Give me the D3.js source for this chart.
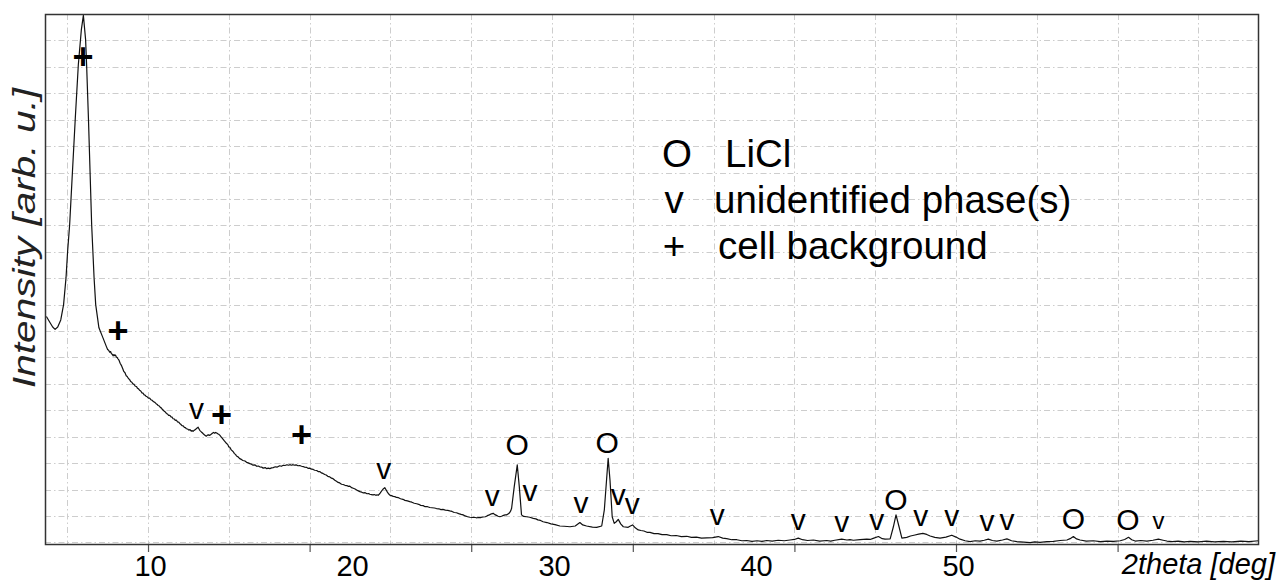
<!DOCTYPE html>
<html><head><meta charset="utf-8">
<script src="https://cdn.jsdelivr.net/npm/d3@7"></script>
<style>body{margin:0;background:#fff}svg{display:block}</style>
</head><body><svg id="c" width="1279" height="586"></svg>
<script>
// ---- data: diffraction scan as [2theta (deg), intensity (arb. u.)] ----
const scanPeakRegion = [[4.97,8.55],[5.13,8.34],[5.28,8.15],[5.40,8.06],[5.53,8.15],[5.68,8.42],[5.82,9.00],[5.94,10.01],[6.02,11.02],[6.12,12.02],[6.26,14.05],[6.40,16.06],[6.55,18.08],[6.70,19.41],[6.80,19.95],[6.91,19.03],[6.96,18.08],[7.05,16.06],[7.13,14.05],[7.21,12.02],[7.33,10.01],[7.41,9.00],[7.57,8.12],[7.77,7.74]];
const scanLowAngle = [[7.94,7.41],[8.00,7.30],[8.05,7.27],[8.10,7.20],[8.15,7.22],[8.19,7.14],[8.23,7.12],[8.27,7.06],[8.31,7.11],[8.35,7.07],[8.39,7.09],[8.43,7.02],[8.47,7.00],[8.51,6.95],[8.56,6.90],[8.62,6.78],[8.68,6.70],[8.72,6.63],[8.76,6.55],[8.80,6.47],[8.86,6.42],[8.92,6.31],[8.97,6.28],[9.03,6.20],[9.09,6.16],[9.14,6.09],[9.20,6.06],[9.25,6.00],[9.31,5.98],[9.37,5.91],[9.43,5.90],[9.48,5.83],[9.53,5.81],[9.58,5.76],[9.64,5.73],[9.70,5.66],[9.75,5.65],[9.81,5.58],[9.86,5.57],[9.90,5.53],[9.96,5.51],[10.02,5.46],[10.08,5.46],[10.14,5.40],[10.20,5.38],[10.28,5.32],[10.34,5.30],[10.40,5.25],[10.46,5.22],[10.50,5.18],[10.56,5.16],[10.62,5.10],[10.66,5.09],[10.70,5.04],[10.76,5.00],[10.82,4.95],[10.86,4.93],[10.91,4.88],[10.96,4.86],[11.02,4.81],[11.08,4.81],[11.14,4.75],[11.19,4.74],[11.24,4.68],[11.30,4.67],[11.35,4.62],[11.40,4.63],[11.46,4.56],[11.52,4.55],[11.57,4.50],[11.62,4.47],[11.68,4.42],[11.74,4.41],[11.80,4.35],[11.85,4.34],[11.90,4.30],[11.96,4.29],[12.02,4.25],[12.08,4.27],[12.14,4.21],[12.19,4.23],[12.23,4.20]];
const scanMidAngle = [[12.28,4.24],[12.33,4.26],[12.40,4.31],[12.48,4.36],[12.52,4.30],[12.56,4.24],[12.60,4.21],[12.64,4.18],[12.70,4.14],[12.76,4.09],[12.82,4.05],[12.89,4.02],[12.94,4.06],[13.00,4.07],[13.06,4.05],[13.14,4.10],[13.20,4.14],[13.25,4.16],[13.30,4.13],[13.35,4.16],[13.40,4.14],[13.45,4.11],[13.50,4.09],[13.55,4.06],[13.62,3.99],[13.70,3.92],[13.78,3.84],[13.88,3.75],[13.95,3.70],[14.00,3.61],[14.05,3.60],[14.12,3.50],[14.21,3.44],[14.28,3.36],[14.34,3.32],[14.38,3.27],[14.45,3.24],[14.54,3.17],[14.62,3.14],[14.70,3.10],[14.80,3.08],[14.88,3.03],[14.96,3.01],[15.04,2.98],[15.12,2.96],[15.20,2.92],[15.30,2.93],[15.38,2.88],[15.46,2.89],[15.53,2.86],[15.62,2.85],[15.70,2.81],[15.80,2.83],[15.88,2.79],[15.95,2.81],[16.03,2.79],[16.12,2.82],[16.20,2.83],[16.30,2.86],[16.40,2.85],[16.52,2.90],[16.60,2.88],[16.70,2.92],[16.78,2.91],[16.88,2.94],[16.95,2.92],[17.02,2.94],[17.10,2.92],[17.18,2.94],[17.25,2.92],[17.35,2.93],[17.42,2.90],[17.51,2.91],[17.60,2.88],[17.68,2.87],[17.75,2.85],[17.85,2.84],[17.92,2.80],[18.01,2.81],[18.10,2.77],[18.18,2.76],[18.25,2.73],[18.35,2.72],[18.42,2.68],[18.50,2.68],[18.58,2.63],[18.66,2.61],[18.75,2.57],[18.82,2.55],[18.90,2.50],[19.00,2.48],[19.08,2.43],[19.16,2.41],[19.25,2.35],[19.33,2.31],[19.41,2.27],[19.49,2.25],[19.58,2.20],[19.66,2.19],[19.75,2.16],[19.84,2.15],[19.92,2.12],[19.99,2.13],[20.08,2.07],[20.16,2.05],[20.25,2.02],[20.33,1.98],[20.41,1.95],[20.49,1.92],[20.58,1.90],[20.66,1.87],[20.75,1.88],[20.84,1.84],[20.92,1.85],[20.98,1.82],[21.06,1.81],[21.14,1.80],[21.20,1.81],[21.28,1.78],[21.34,1.80],[21.39,1.78]];
const scanLiClRegion = [[21.48,1.85],[21.55,1.93],[21.63,2.01],[21.72,2.07],[21.79,1.98],[21.85,1.90],[21.92,1.83],[21.97,1.79],[22.05,1.77],[22.14,1.74],[22.22,1.73],[22.30,1.70],[22.40,1.69],[22.50,1.65],[22.62,1.63],[22.72,1.59],[22.84,1.57],[22.96,1.54],[23.06,1.52],[23.18,1.48],[23.30,1.46],[23.40,1.44],[23.50,1.40],[23.62,1.39],[23.72,1.35],[23.84,1.35],[23.95,1.32],[24.06,1.31],[24.18,1.30],[24.28,1.28],[24.40,1.27],[24.50,1.24],[24.60,1.25],[24.72,1.22],[24.84,1.21],[24.94,1.19],[25.05,1.17],[25.16,1.13],[25.27,1.12],[25.38,1.09],[25.50,1.06],[25.60,1.04],[25.70,1.00],[25.82,0.97],[25.93,0.95],[26.05,0.94],[26.15,0.95],[26.25,0.93],[26.36,0.94],[26.48,0.94],[26.59,0.96],[26.70,0.97],[26.80,1.01],[26.90,1.04],[27.00,1.08],[27.09,1.10],[27.17,1.05],[27.25,1.02],[27.33,0.99],[27.42,0.97],[27.50,0.99],[27.60,1.02],[27.68,1.04],[27.75,1.04],[27.84,1.08],[27.90,1.12],[27.96,1.20],[28.00,1.29],[28.13,2.11],[28.28,2.93],[28.38,2.11],[28.49,1.04],[28.60,0.98],[28.74,0.97],[28.90,0.95],[29.07,0.91],[29.20,0.89],[29.30,0.85],[29.43,0.83],[29.56,0.78],[29.75,0.75],[29.95,0.70],[30.15,0.67],[30.39,0.62],[30.60,0.61],[30.89,0.59],[31.15,0.62],[31.38,0.75],[31.52,0.66],[31.71,0.62],[32.00,0.58],[32.21,0.57],[32.46,0.62],[32.59,1.23],[32.70,2.36],[32.78,3.18],[32.87,2.36],[32.98,0.97],[33.08,0.72],[33.18,0.78],[33.28,0.87],[33.40,0.70],[33.53,0.59],[33.77,0.57],[33.88,0.62],[33.99,0.66],[34.12,0.55],[34.27,0.47]];
const scanHighAngle = [[34.40,0.45],[34.55,0.43],[34.70,0.38],[34.85,0.38],[35.05,0.33],[35.25,0.33],[35.45,0.29],[35.68,0.29],[35.90,0.25],[36.15,0.26],[36.40,0.22],[36.67,0.23],[36.90,0.19],[37.15,0.20],[37.40,0.16],[37.66,0.17],[37.95,0.18],[38.23,0.22],[38.45,0.16],[38.65,0.14],[38.90,0.10],[39.15,0.10],[39.40,0.06],[39.64,0.07],[39.90,0.04],[40.15,0.06],[40.40,0.04],[40.63,0.07],[40.90,0.05],[41.20,0.08],[41.50,0.06],[41.78,0.09],[42.00,0.11],[42.19,0.16],[42.40,0.10],[42.65,0.07],[42.94,0.09],[43.25,0.05],[43.60,0.07],[43.80,0.05],[44.00,0.08],[44.34,0.12],[44.60,0.09],[44.75,0.10],[44.92,0.08],[45.25,0.10],[45.58,0.12],[45.75,0.11],[45.90,0.15],[46.16,0.22],[46.35,0.14],[46.49,0.12],[46.74,0.13],[46.90,0.59],[47.03,1.04],[47.18,0.59],[47.32,0.16],[47.56,0.19],[47.75,0.24],[47.97,0.28],[48.15,0.31],[48.36,0.34],[48.55,0.30],[48.72,0.24],[48.95,0.19],[49.21,0.16],[49.50,0.20],[49.79,0.27],[50.00,0.20],[50.20,0.12],[50.45,0.06],[50.70,0.03],[50.95,0.06],[51.19,0.05],[51.40,0.08],[51.60,0.12],[51.80,0.07],[52.02,0.05],[52.30,0.09],[52.52,0.13],[52.75,0.06],[53.01,0.03],[53.35,0.01],[53.67,-0.01],[53.90,0.02],[54.16,0.00],[54.50,0.03],[54.82,0.04],[55.15,0.07],[55.49,0.09],[55.65,0.14],[55.81,0.22],[55.97,0.13],[56.14,0.09],[56.45,0.05],[56.80,0.06],[57.15,0.03],[57.47,0.05],[57.80,0.04],[58.13,0.06],[58.35,0.11],[58.54,0.19],[58.70,0.10],[58.87,0.05],[59.15,0.07],[59.45,0.05],[59.75,0.08],[60.02,0.12],[60.25,0.08],[60.44,0.05],[60.70,0.03],[61.00,0.05],[61.30,0.02],[61.59,0.04],[62.00,0.02],[62.40,0.05],[62.80,0.02],[63.24,0.04],[63.65,0.02],[64.10,0.05],[64.50,0.03],[64.98,0.06]];

// peak markers (symbol, 2theta, intensity at glyph centre)
const markerSymbols = ["+","+","v","+","+","v","v","O","v","v","O","v","v","v","v","v","v","O","v","v","v","v","O","O","v"];
const markerTwoTheta = [6.78,8.51,12.40,13.64,17.60,21.67,27.04,28.28,28.91,31.43,32.73,33.28,33.97,38.18,42.19,44.34,46.08,47.03,48.26,49.79,51.53,52.52,55.81,58.51,60.02];
const markerIntensity = [18.38,7.98,4.95,4.82,4.07,2.71,1.67,3.72,1.86,1.42,3.81,1.71,1.35,0.97,0.78,0.70,0.78,1.63,0.91,0.91,0.72,0.78,0.91,0.87,0.75];

const xTickLabels = [10,20,30,40,50];
const xTickMarks = [10,18,26,34,42,50,58];
const xGridValues = [6,10,14,18,22,26,30,34,38,42,46,50,54,58,62];
const yGridValues = [0,1,2,3,4,5,6,7,8,9,10,11,12,13,14,15,16,17,18,19];
const legendSymbols = ["O","v","+"];
const legendLabels = ["LiCl","unidentified phase(s)","cell background"];
const xTitle = "2theta [deg]";
const yTitle = "Intensity [arb. u.]";

// ---- layout ----
const W = 1279, H = 586;
const m = {left:45, top:14, right:20, bottom:41};
const x = d3.scaleLinear().domain([4.9, 65]).range([m.left, W - m.right]);
const y = d3.scaleLinear().domain([-0.1, 20]).range([H - m.bottom, m.top]);
const FONT = "'Liberation Sans', Arial, sans-serif";

const svg = d3.select("#c");
svg.append("rect").attr("width", W).attr("height", H).attr("fill", "#fff");

const gridStyle = s => s.attr("stroke", "#cdcdcd").attr("stroke-width", 1).attr("stroke-dasharray", "6,3,1.5,3");

// grids
svg.append("g").selectAll("line").data(xGridValues).join("line")
  .attr("x1", d => Math.round(x(d)) + 0.5).attr("x2", d => Math.round(x(d)) + 0.5)
  .attr("y1", y.range()[1]).attr("y2", y.range()[0]).call(gridStyle);
svg.append("g").selectAll("line").data(yGridValues).join("line")
  .attr("y1", d => Math.round(y(d)) + 0.5).attr("y2", d => Math.round(y(d)) + 0.5)
  .attr("x1", x.range()[0]).attr("x2", x.range()[1]).call(gridStyle);

// tick marks
const tickAxis = d3.axisBottom(x).tickValues(xTickMarks).tickFormat("").tickSizeInner(7).tickSizeOuter(0);
const ta = svg.append("g").attr("transform", `translate(0,${y.range()[0]})`).call(tickAxis);
ta.select(".domain").remove();
ta.selectAll("line").attr("stroke", "#555").attr("stroke-width", 1.2);

// tick labels
const labelAxis = d3.axisBottom(x).tickValues(xTickLabels).tickFormat(d3.format("d")).tickSize(0).tickPadding(10);
const la = svg.append("g").attr("transform", `translate(2,${y.range()[0]})`).call(labelAxis);
la.select(".domain").remove();
la.selectAll("text").attr("font-family", FONT).attr("font-size", 29).attr("fill", "#000");

// x title (placed as last label)
svg.append("text").attr("x", W - 4).attr("y", 574).attr("text-anchor", "end")
  .attr("font-family", FONT).attr("font-style", "italic").attr("font-size", 29).text(xTitle);

// y title
svg.append("text").attr("transform", `translate(35,238) rotate(-90)`)
  .attr("text-anchor", "middle").attr("font-family", FONT).attr("font-style", "italic")
  .attr("font-size", 31).attr("textLength", 300).attr("lengthAdjust", "spacingAndGlyphs")
  .attr("fill", "#222").text(yTitle);

// curve
const pts = [].concat(scanPeakRegion, scanLowAngle, scanMidAngle, scanLiClRegion, scanHighAngle);
const line = d3.line().x(d => x(d[0])).y(d => y(d[1]));
svg.append("path").datum(pts).attr("d", line).attr("fill", "none")
  .attr("stroke", "#111").attr("stroke-width", 1.2).attr("stroke-linejoin", "round");

// markers
const markerSize = {"O": 30, "v": 30, "+": 36};
const markerShift = {"O": 0.36, "v": 0.26, "+": 0.33};
svg.append("g").selectAll("text").data(markerSymbols.map((s, i) => ({s, t: markerTwoTheta[i], v: markerIntensity[i], fs: i === 24 ? 24 : markerSize[s]})))
  .join("text")
  .attr("x", d => x(d.t)).attr("y", d => y(d.v) + markerShift[d.s] * d.fs)
  .attr("text-anchor", "middle").attr("font-family", FONT)
  .attr("font-weight", d => d.s === "+" ? "bold" : "normal")
  .attr("font-size", d => d.fs).attr("fill", "#000").text(d => d.s);

// legend
const lg = svg.append("g").attr("font-family", FONT).attr("font-size", 38.5).attr("fill", "#000");
const legX = [677, 674, 674], legTX = [725, 714, 718], legY = [167, 213, 259];
legendSymbols.forEach((s, i) => {
  lg.append("text").attr("x", legX[i]).attr("y", legY[i]).attr("text-anchor", "middle").text(s);
  lg.append("text").attr("x", legTX[i]).attr("y", legY[i]).text(legendLabels[i]);
});

// frame
svg.append("rect").attr("x", x.range()[0] + 0.5).attr("y", y.range()[1] + 0.5)
  .attr("width", x.range()[1] - x.range()[0] - 1).attr("height", y.range()[0] - y.range()[1] - 1)
  .attr("fill", "none").attr("stroke", "#333").attr("stroke-width", 1.5);
</script></body></html>
